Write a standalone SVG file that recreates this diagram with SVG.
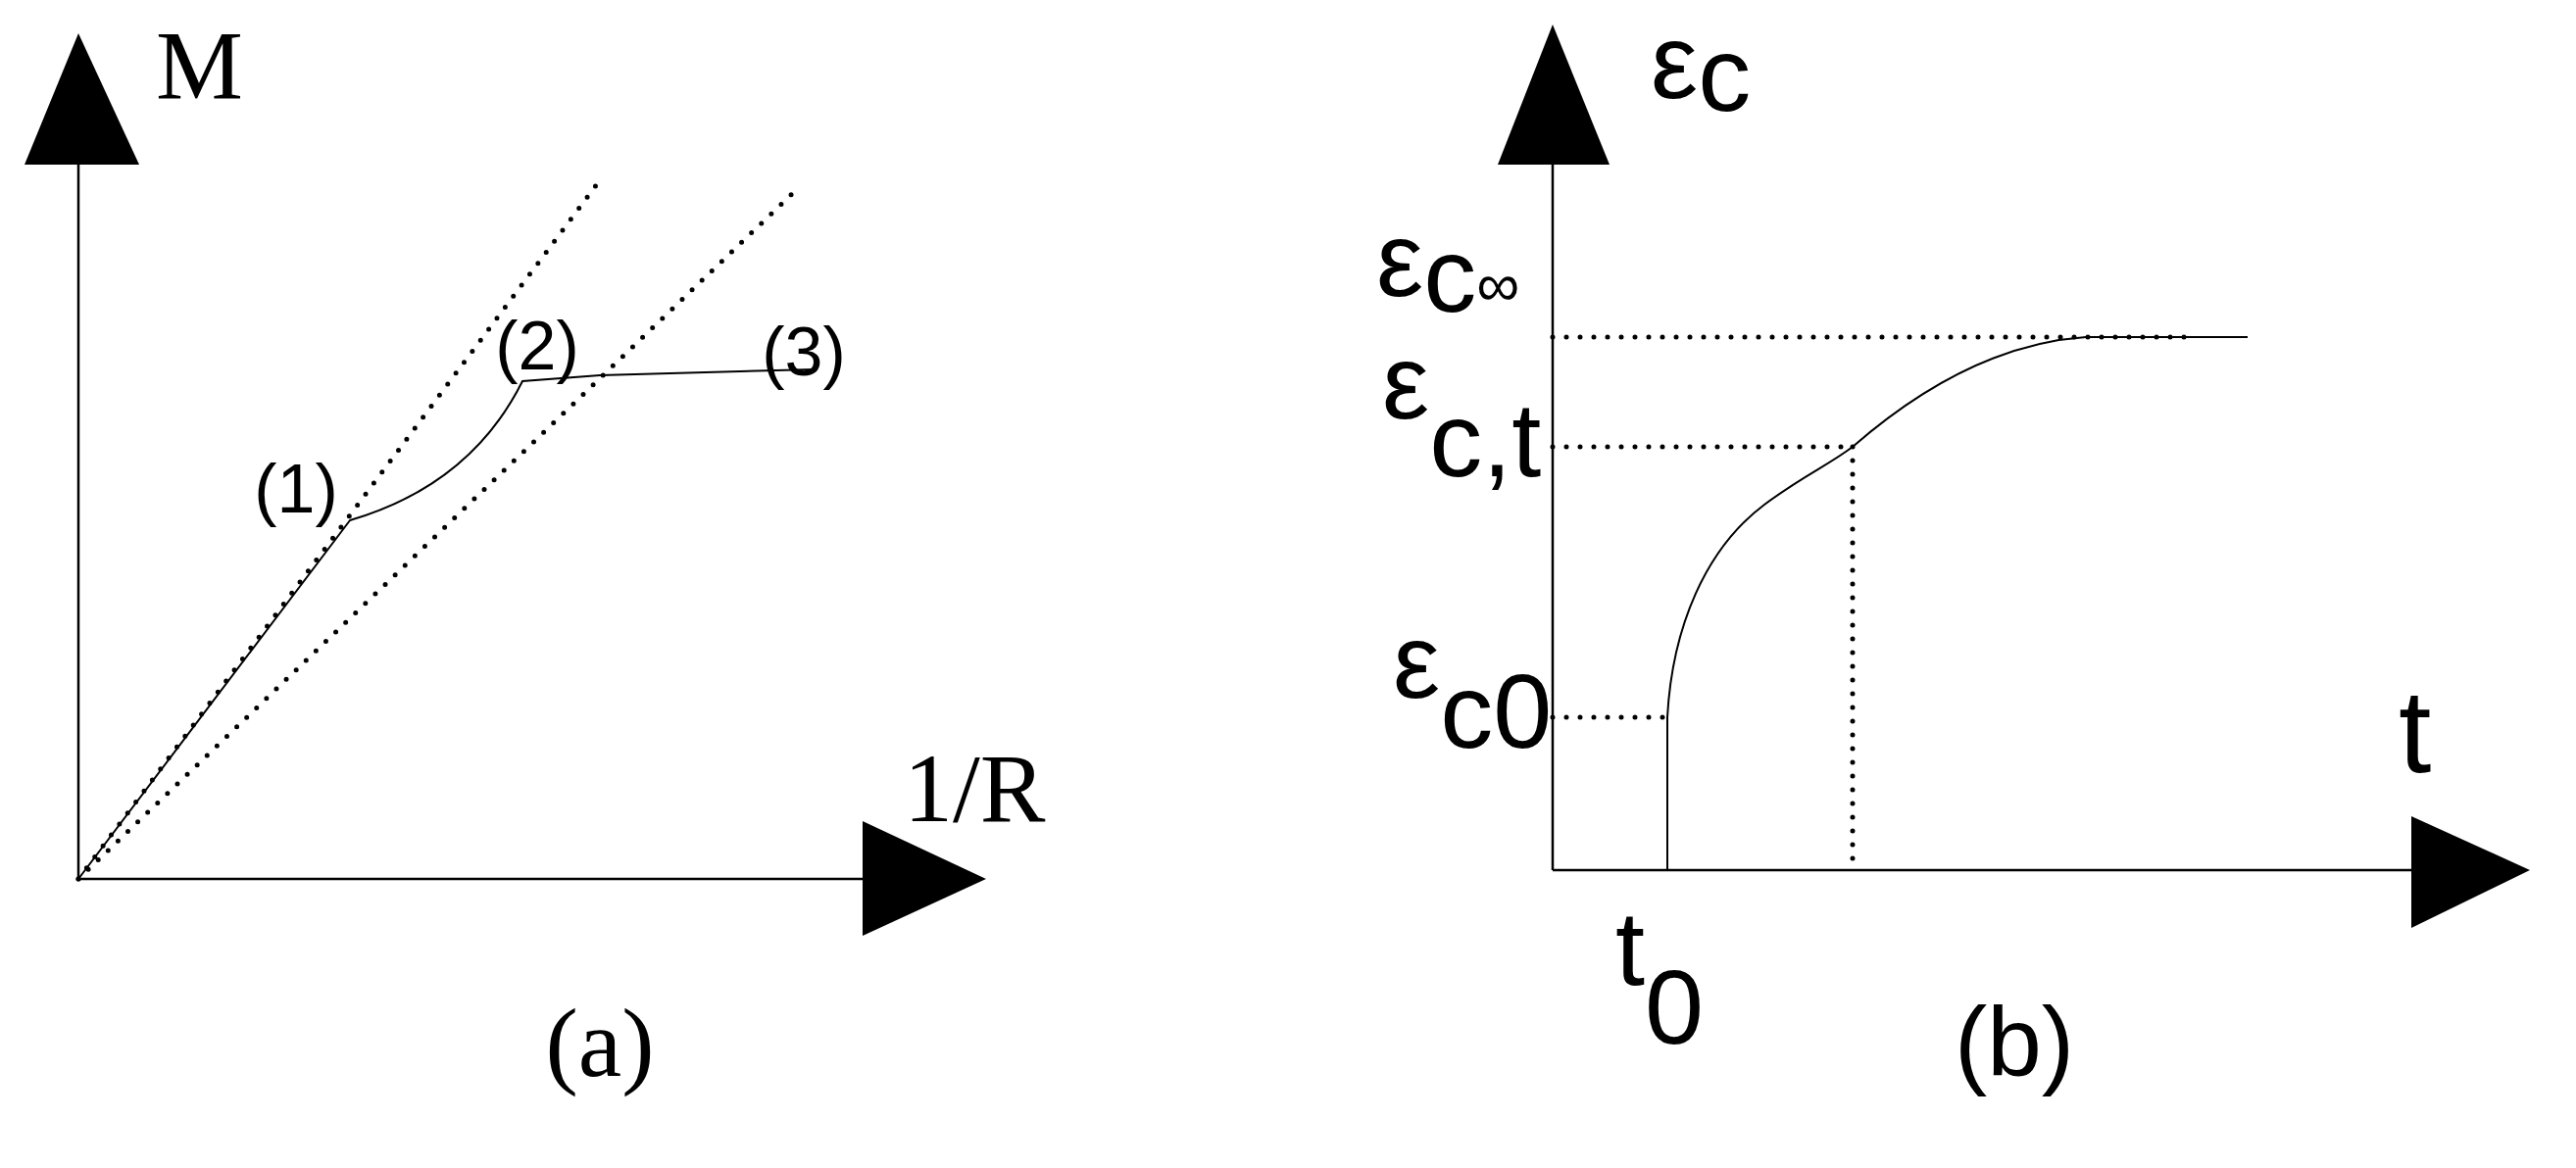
<svg xmlns="http://www.w3.org/2000/svg" width="2628" height="1192" viewBox="0 0 2628 1192">
<style>
.ax{stroke:#000;stroke-width:2.5;fill:none}
.cv{stroke:#000;stroke-width:2;fill:none}
.dt{stroke:#000;stroke-width:5;stroke-linecap:round;stroke-dasharray:0 14;fill:none}
.tri{fill:#000}
.ser{font-family:"Liberation Serif",serif;font-size:100px}
.san{font-family:"Liberation Sans",Arial,sans-serif}
</style>
<rect width="2628" height="1192" fill="#fff"/>
<g id="connectors">
<line class="ax" x1="80" y1="168" x2="80" y2="897"/>
<line class="ax" x1="80" y1="897" x2="882" y2="897"/>
<polygon class="tri" points="80,34 25,168 142,168"/>
<polygon class="tri" points="880,838 880,955 1006,897"/>
<line class="dt" x1="80" y1="897" x2="612" y2="184"/>
<line class="dt" x1="80" y1="897" x2="810" y2="196"/>
<path class="cv" d="M80,897 L357,531 Q480,495 533,389 L612,383 L830,377"/>
<line class="ax" x1="1584" y1="168" x2="1584" y2="888"/>
<line class="ax" x1="1584" y1="888" x2="2462" y2="888"/>
<polygon class="tri" points="1584,25 1528,168 1642,168"/>
<polygon class="tri" points="2460,833 2460,947 2581,888"/>
<path class="cv" d="M1701,888 L1701,732 C1706,640 1740,560 1800,515 C1840,485 1865,475 1890,456 C1960,395 2040,350 2128,344 L2293,344"/>
<line class="dt" x1="1584" y1="344" x2="2229" y2="344"/>
<line class="dt" x1="1584" y1="456" x2="1890" y2="456"/>
<line class="dt" x1="1584" y1="732" x2="1701" y2="732"/>
<line class="dt" x1="1890" y1="456" x2="1890" y2="888"/>
</g>
<g id="labels-a">
<text class="ser" x="159" y="100">M</text>
<text class="ser" x="922" y="838">1/R</text>
<text class="ser" x="612" y="1098" text-anchor="middle">(a)</text>
<text class="san" font-size="70" x="302" y="523" text-anchor="middle">(1)</text>
<text class="san" font-size="70" x="548" y="377" text-anchor="middle">(2)</text>
<text class="san" font-size="70" x="820" y="383" text-anchor="middle">(3)</text>
</g>
<g id="labels-b" class="san">
<text font-size="108" x="1684" y="100">ε<tspan dy="13">c</tspan></text>
<text font-size="108" x="1404" y="302">ε<tspan dy="16">c</tspan><tspan font-size="62" dy="-6">∞</tspan></text>
<text font-size="108" x="1410" y="427">ε<tspan dy="59">c,t</tspan></text>
<text font-size="108" x="1421" y="712">ε<tspan dy="51">c0</tspan></text>
<text font-size="120" x="2447" y="788">t</text>
<text font-size="108" x="1648" y="1005">t<tspan dy="60">0</tspan></text>
<text font-size="100" x="2055" y="1098" text-anchor="middle">(b)</text>
</g>
</svg>
